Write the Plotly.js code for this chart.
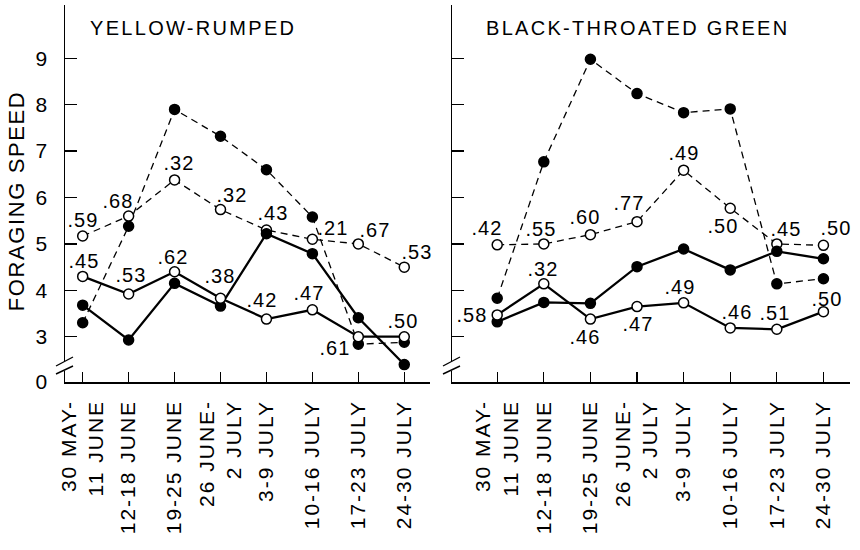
<!DOCTYPE html>
<html>
<head>
<meta charset="utf-8">
<script src="https://cdn.plot.ly/plotly-3.0.1.min.js"></script>
<style>
  html, body { margin: 0; padding: 0; background: #fff; }
  #chart { width: 860px; height: 550px; }
  .js-plotly-plot .annotation-text { letter-spacing: 1px; }
  .js-plotly-plot .annotation[data-index="0"] .annotation-text,
  .js-plotly-plot .annotation[data-index="1"] .annotation-text { letter-spacing: 2.3px; }
  .js-plotly-plot .annotation[data-index="2"] .annotation-text { letter-spacing: 1.6px; }
  .js-plotly-plot .xtick text, .js-plotly-plot .x2tick text { letter-spacing: 2px; }
</style>
</head>
<body>
<div id="chart"></div>
<script>
// ---- categories / tick labels ----
var periods = ['30 MAY-<br>11 JUNE', '12-18 JUNE', '19-25 JUNE', '26 JUNE-<br>2 JULY',
               '3-9 JULY', '10-16 JULY', '17-23 JULY', '24-30 JULY'];
var yTickVals = [2.024, 3, 4, 5, 6, 7, 8, 9];
var yTickText = ['0', '3', '4', '5', '6', '7', '8', '9'];

// ---- Yellow-rumped (left panel) ----
var yrOpenDash    = [5.17, 5.60, 6.38, 5.74, 5.30, 5.10, 5.00, 4.50];
var yrFilledDash  = [3.30, 5.38, 7.90, 7.32, 6.60, 5.58, 2.84, 2.88];
var yrFilledSolid = [3.68, 2.93, 4.15, 3.66, 5.22, 4.79, 3.41, 2.40];
var yrOpenSolid   = [4.30, 3.92, 4.40, 3.83, 3.38, 3.58, 3.00, 3.00];
var yrOpenDashLabels  = ['.59', '.68', '.32', '.32', '.43', '.21', '.67', '.53'];
var yrOpenSolidLabels = ['.45', '.53', '.62', '.38', '.42', '.47', '.61', '.50'];

// ---- Black-throated green (right panel) ----
var btFilledDash  = [3.83, 6.77, 8.98, 8.24, 7.83, 7.91, 4.14, 4.25];
var btOpenDash    = [4.98, 5.00, 5.20, 5.48, 6.59, 5.77, 5.00, 4.97];
var btFilledSolid = [3.32, 3.74, 3.72, 4.51, 4.89, 4.44, 4.84, 4.68];
var btOpenSolid   = [3.47, 4.14, 3.38, 3.65, 3.73, 3.19, 3.16, 3.54];
var btOpenDashLabels  = ['.42', '.55', '.60', '.77', '.49', '.50', '.45', '.50'];
var btOpenSolidLabels = ['.58', '.32', '.46', '.47', '.49', '.46', '.51', '.50'];

// ---- label placement (pixel offsets, screen coords: +x right, +y down) ----
var yrOpenDashOff  = [[0,-16],[-11,-15],[4,-17],[11,-15],[7,-17],[21,-11],[17,-14],[13,-15]];
var yrOpenSolidOff = [[1,-15],[2,-19],[-2,-15],[-1,-22],[-4,-19],[-3,-17],[-23,11],[-1,-16]];
var btOpenDashOff  = [[-10,-17],[-3,-15],[-5,-18],[-8,-19],[0,-17],[-7,18],[9,-15],[13,-17]];
var btOpenSolidOff = [[-25,0],[-1,-15],[-5,18],[1,17],[-4,-16],[7,-16],[-2,-16],[4,-13]];

var FONT = 'Liberation Sans, Arial, sans-serif';
var W = 860, H = 550;
function px(x) { return x / W; }
function py(y) { return 1 - y / H; }

function series(xa, ya, vals, filled, dashed) {
  return {
    type: 'scatter', mode: 'lines+markers',
    x: periods, y: vals, xaxis: xa, yaxis: ya,
    line: { color: '#000', width: dashed ? 1.3 : 2.3, dash: dashed ? '7px,5px' : 'solid' },
    marker: { symbol: 'circle', size: 10, color: filled ? '#000' : '#fff',
              line: { color: '#000', width: 1.5 } },
    cliponaxis: false, hoverinfo: 'skip', showlegend: false
  };
}

var data = [
  series('x', 'y', yrFilledDash, true, true),
  series('x', 'y', yrOpenDash, false, true),
  series('x', 'y', yrFilledSolid, true, false),
  series('x', 'y', yrOpenSolid, false, false),
  series('x2', 'y2', btFilledDash, true, true),
  series('x2', 'y2', btOpenDash, false, true),
  series('x2', 'y2', btFilledSolid, true, false),
  series('x2', 'y2', btOpenSolid, false, false)
];

var annotations = [
  { xref: 'paper', yref: 'paper', x: px(193), y: py(28), xanchor: 'center', yanchor: 'middle',
    text: 'YELLOW-RUMPED', showarrow: false, font: { family: FONT, size: 20, color: '#000' } },
  { xref: 'paper', yref: 'paper', x: px(637), y: py(28), xanchor: 'center', yanchor: 'middle',
    text: 'BLACK-THROATED GREEN', showarrow: false, font: { family: FONT, size: 20, color: '#000' } },
  { xref: 'paper', yref: 'paper', x: px(16), y: py(201), xanchor: 'center', yanchor: 'middle',
    textangle: -90, text: 'FORAGING SPEED', showarrow: false,
    font: { family: FONT, size: 22, color: '#000' } }
];

function addLabels(xr, yr, vals, labels, offs) {
  for (var i = 0; i < vals.length; i++) {
    annotations.push({
      xref: xr, yref: yr, x: i, y: vals[i], text: labels[i],
      xshift: offs[i][0], yshift: -offs[i][1],
      xanchor: 'center', yanchor: 'middle', showarrow: false,
      font: { family: FONT, size: 20, color: '#000' }
    });
  }
}
addLabels('x', 'y', yrOpenDash, yrOpenDashLabels, yrOpenDashOff);
addLabels('x', 'y', yrOpenSolid, yrOpenSolidLabels, yrOpenSolidOff);
addLabels('x2', 'y2', btOpenDash, btOpenDashLabels, btOpenDashOff);
addLabels('x2', 'y2', btOpenSolid, btOpenSolidLabels, btOpenSolidOff);

// axis-break marks (decoration)
function breakShapes(axisX, x0, x1) {
  return [
    { type: 'line', xref: 'paper', yref: 'paper', x0: px(axisX), x1: px(axisX), y0: py(361), y1: py(371),
      line: { color: '#fff', width: 4 } },
    { type: 'line', xref: 'paper', yref: 'paper', x0: px(x0), y0: py(366), x1: px(x1), y1: py(357),
      line: { color: '#000', width: 1.4 } },
    { type: 'line', xref: 'paper', yref: 'paper', x0: px(x0), y0: py(374), x1: px(x1), y1: py(366),
      line: { color: '#000', width: 1.4 } }
  ];
}
var shapes = breakShapes(65, 56, 73).concat(breakShapes(451.5, 443, 460));

var axisCommon = {
  showgrid: false, zeroline: false, showline: true, linecolor: '#000', linewidth: 1.5,
  ticks: 'inside', tickcolor: '#000', tickwidth: 1.3,
  tickfont: { family: FONT, size: 20, color: '#000' }
};

function xAxis(domain, range, anchor) {
  return Object.assign({}, axisCommon, {
    domain: domain, anchor: anchor, type: 'category', categoryarray: periods,
    range: range, ticklen: 10, tickangle: -90, ticklabelstandoff: 8,
    tickfont: { family: FONT, size: 21, color: '#000' }
  });
}
function yAxis(anchor, labels) {
  return Object.assign({}, axisCommon, {
    domain: [py(382), py(5)], anchor: anchor, range: [2.024, 10.15],
    tickvals: labels ? yTickVals : yTickVals.slice(1),
    ticktext: labels ? yTickText : yTickText.slice(1),
    showticklabels: labels, ticklen: 12, ticklabelstandoff: 12,
    tickfont: { family: FONT, size: 21, color: '#000' }
  });
}

var layout = {
  width: W, height: H,
  margin: { l: 0, r: 0, t: 0, b: 0 },
  paper_bgcolor: '#fff', plot_bgcolor: 'rgba(0,0,0,0)',
  font: { family: FONT, color: '#000' },
  showlegend: false,
  xaxis: xAxis([px(65), px(430)], [-0.385, 7.56], 'y'),
  yaxis: yAxis('x', true),
  xaxis2: xAxis([px(452), px(850)], [-0.97, 7.57], 'y2'),
  yaxis2: yAxis('x2', false),
  annotations: annotations,
  shapes: shapes
};

Plotly.newPlot('chart', data, layout, { staticPlot: true, displayModeBar: false });
</script>
</body>
</html>
